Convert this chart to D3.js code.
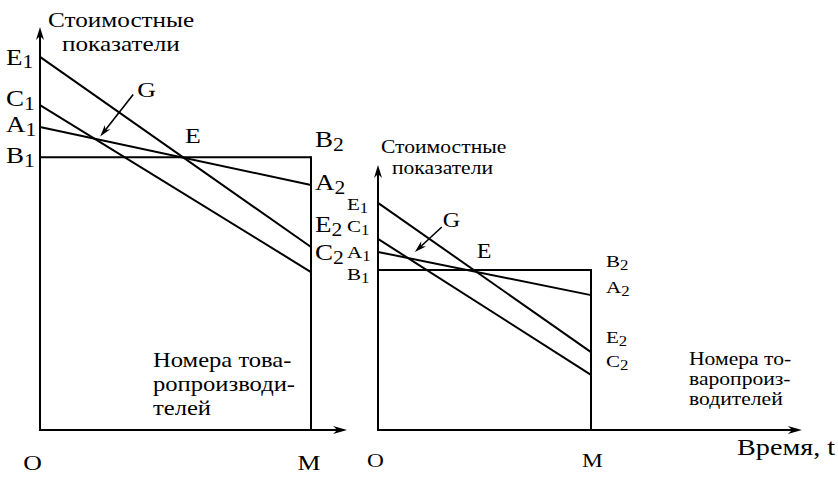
<!DOCTYPE html>
<html><head><meta charset="utf-8">
<script src="https://cdn.jsdelivr.net/npm/d3@7"></script>
<style>
body{margin:0;background:#fff}
svg{display:block}
text{font-family:"Liberation Serif","Times New Roman",serif;fill:#000}
</style>
</head><body>
<svg id="c" width="838" height="477"></svg>
<script>
// ---- data ----
const lineNames = ["E", "C", "A", "B"];
const leftStart = [92.6, 80.6, 75.2, 67.7];
const leftEnd = [45.4, 39.2, 60.8, 67.7];
const rightStart = [85.7, 72.1, 67.2, 60.4];
const rightEnd = [29.4, 20.8, 50.9, 60.4];
const axisTitle = ["Стоимостные", "показатели"];
const leftXTitle = ["Номера това-", "ропроизводи-", "телей"];
const rightXTitle = ["Номера то-", "варопроиз-", "водителей"];
const xTickLabels = ["O", "M"];
const timeLabel = "Время, t";

const SX = 1.2; // horizontal glyph stretch seen in the reference
const svg = d3.select("#c");

function arrowHead(g, x1, y1, x2, y2, len, half) {
  const a = Math.atan2(y2 - y1, x2 - x1);
  const ca = Math.cos(a), sa = Math.sin(a);
  const bx = x2 - len * ca, by = y2 - len * sa;
  const nx = x2 - len * 0.7 * ca, ny = y2 - len * 0.7 * sa;
  const p = [[x2, y2], [bx - half * sa, by + half * ca], [nx, ny], [bx + half * sa, by - half * ca]];
  g.append("path").attr("d", "M" + p.map(d => d.join(",")).join("L") + "Z").attr("fill", "#000");
}

function addText(g, x, y, size, anchor) {
  return g.append("text").attr("x", 0).attr("y", 0)
    .attr("transform", `translate(${x},${y}) scale(${SX},1)`)
    .attr("font-size", size).attr("text-anchor", anchor || "start");
}

function addLabel(g, x, y, base, sub, size) {
  const t = addText(g, x, y, size);
  t.append("tspan").text(base);
  if (sub) t.append("tspan").attr("font-size", "0.8em").attr("dy", "0.2em").text(sub);
  return t;
}

function panel(cfg, start, end) {
  const g = svg.append("g");
  const x = d3.scaleLinear().domain([0, 1]).range(cfg.xr);
  const y = d3.scaleLinear().domain([0, 100]).range(cfg.yr);
  const sw = 2;

  // axes
  g.append("line").attr("x1", x(0)).attr("y1", y(0) + 1).attr("x2", x(0)).attr("y2", y(100) + 6)
    .attr("stroke", "#000").attr("stroke-width", sw);
  arrowHead(g, x(0), y(0), x(0), y(100), 13, 4);
  g.append("line").attr("x1", x(0) - 1).attr("y1", y(0)).attr("x2", x(cfg.xAxisEnd) - 6).attr("y2", y(0))
    .attr("stroke", "#000").attr("stroke-width", sw);
  arrowHead(g, x(0), y(0), x(cfg.xAxisEnd), y(0), 14, 4);

  // M vertical
  const bi = lineNames.indexOf("B");
  g.append("line").attr("x1", x(1)).attr("y1", y(end[bi]) - 1).attr("x2", x(1)).attr("y2", y(0))
    .attr("stroke", "#000").attr("stroke-width", sw);

  // cost lines
  g.selectAll("line.cost").data(lineNames).enter().append("line").attr("class", "cost")
    .attr("x1", x(0)).attr("y1", (d, i) => y(start[i]))
    .attr("x2", x(1)).attr("y2", (d, i) => y(end[i]))
    .attr("stroke", "#000").attr("stroke-width", sw);

  // endpoint labels
  lineNames.forEach((n, i) => {
    addLabel(g, cfg.leftLabX, y(start[i]) + cfg.startOff[i], n, "1", cfg.labSize);
    addLabel(g, x(1) + cfg.endLabDx, y(end[i]) + cfg.endOff[i], n, "2", cfg.endLabSize);
  });

  // E intersection (E line with B line)
  const ei = lineNames.indexOf("E");
  const tE = (start[ei] - start[bi]) / ((start[ei] - end[ei]) - (start[bi] - end[bi]));
  addLabel(g, x(tE) + cfg.eDx, y(start[bi]) + cfg.eDy, "E", null, cfg.ptSize);

  // G intersection (A with C)
  const ai = lineNames.indexOf("A"), ci = lineNames.indexOf("C");
  const tG = (start[ci] - start[ai]) / ((start[ci] - end[ci]) - (start[ai] - end[ai]));
  const gx = x(tG), gy = y(start[ai] + (end[ai] - start[ai]) * tG);
  const tipX = gx + cfg.gTip[0], tipY = gy + cfg.gTip[1];
  const sx = tipX + cfg.gVec[0], sy = tipY + cfg.gVec[1];
  g.append("line").attr("x1", sx).attr("y1", sy).attr("x2", tipX + cfg.gVec[0] * 0.15).attr("y2", tipY + cfg.gVec[1] * 0.15)
    .attr("stroke", "#000").attr("stroke-width", 1.6);
  arrowHead(g, sx, sy, tipX, tipY, 12, 3.5);
  addLabel(g, sx + cfg.gLab[0], sy + cfg.gLab[1], "G", null, cfg.ptSize);

  // y-axis title
  axisTitle.forEach((s, i) => {
    addText(g, cfg.titleX[i], cfg.titleY[i], cfg.titleSize).text(s);
  });
  // x-axis title
  cfg.xTitle.forEach((s, i) => {
    addText(g, cfg.xTitleX, cfg.xTitleY + i * cfg.xTitleLH, cfg.xTitleSize).text(s);
  });
  // O, M ticks
  [0, 1].forEach((v, i) => {
    addText(g, x(v) + cfg.tickDx[i], cfg.tickY, cfg.tickSize, "middle").text(xTickLabels[i]);
  });
  return {x, y};
}

panel({
  xr: [40, 311], yr: [430, 27], xAxisEnd: 1.133,
  leftLabX: 6, labSize: 22.5, endLabSize: 22.5, ptSize: 21.5,
  startOff: [8, 1, 5, 6], endLabDx: 4, endOff: [-15, -12, 5, -10],
  eDx: 2, eDy: -14,
  gTip: [6, -2], gVec: [33, -42], gLab: [4, 2],
  titleX: [48, 62], titleY: [27, 51], titleSize: 21,
  xTitle: leftXTitle, xTitleX: 153, xTitleY: 367, xTitleLH: 24, xTitleSize: 20.5,
  tickDx: [-7.5, -2], tickY: 470, tickSize: 21.5
}, leftStart, leftEnd);

panel({
  xr: [378, 591], yr: [430, 165], xAxisEnd: 1.99,
  leftLabX: 347, labSize: 17.5, endLabSize: 17.5, ptSize: 20,
  startOff: [7, -7, 6, 10], endLabDx: 15, endOff: [-9, -8, -2, -3],
  eDx: 3, eDy: -12,
  gTip: [7, -6], gVec: [27, -25], gLab: [1, 0],
  titleX: [381, 392], titleY: [152.5, 173.5], titleSize: 18,
  xTitle: rightXTitle, xTitleX: 689, xTitleY: 365, xTitleLH: 20, xTitleSize: 18,
  tickDx: [-2.5, 1.5], tickY: 467, tickSize: 19.5
}, rightStart, rightEnd);

addText(svg, 737, 455, 23.5).text(timeLabel);
</script>
</body></html>
